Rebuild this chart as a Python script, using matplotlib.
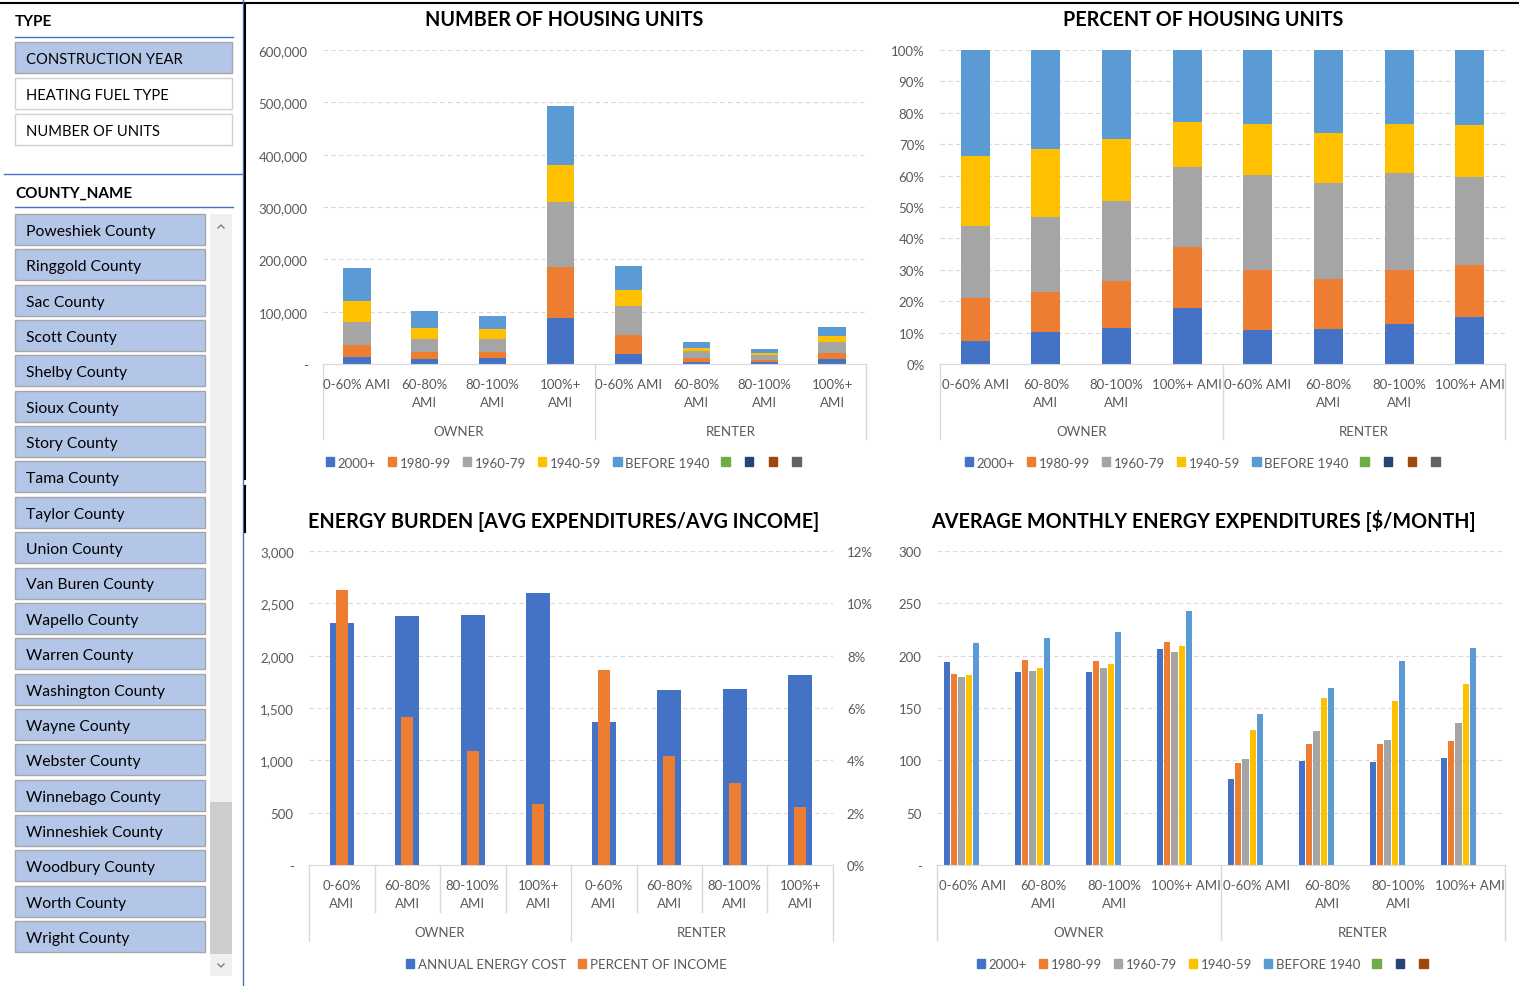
import matplotlib.pyplot as plt
from matplotlib.patches import Rectangle, Patch
from matplotlib.ticker import FuncFormatter, MultipleLocator
import numpy as np

plt.rcParams['font.family'] = ['Lato', 'DejaVu Sans']

W, H = 1519, 987
GREY_TXT = '#595959'
GRID = '#D9D9D9'

GROUPS = ['OWNER', 'RENTER']
INCOME = ['0-60% AMI', '60-80% AMI', '80-100% AMI', '100%+ AMI']
PERIODS = ['2000+', '1980-99', '1960-79', '1940-59', 'BEFORE 1940']
PERIOD_COLORS = ['#4472C4', '#ED7D31', '#A5A5A5', '#FFC000', '#5B9BD5']
SPARE_COLORS = ['#70AD47', '#264478', '#9E480E', '#636363']

# order: owner 0-60, 60-80, 80-100, 100+, renter 0-60, 60-80, 80-100, 100+
units_2000 = [12800, 9600, 10900, 87400, 19800, 4500, 3200, 10200]
units_1980 = [24200, 12700, 12700, 97600, 36400, 7000, 5100, 11500]
units_1960 = [43400, 24900, 23600, 124000, 55500, 13400, 9600, 19800]
units_1940 = [40200, 21700, 19200, 72000, 30600, 6400, 3800, 12100]
units_pre1940 = [62400, 31900, 24900, 112000, 44100, 11500, 7000, 16600]

pct_2000 = [7.4, 10.1, 11.4, 17.7, 10.7, 11.3, 12.6, 15.0]
pct_1980 = [13.5, 12.7, 15.1, 19.7, 19.1, 15.7, 17.2, 16.6]
pct_1960 = [23.2, 24.0, 25.5, 25.3, 30.3, 30.6, 31.1, 28.1]
pct_1940 = [22.3, 21.6, 19.8, 14.4, 16.3, 16.0, 15.5, 16.3]
pct_pre1940 = [33.6, 31.6, 28.2, 22.9, 23.6, 26.4, 23.6, 24.0]

annual_cost = [2310, 2377, 2393, 2596, 1367, 1669, 1684, 1815]
pct_income = [10.5, 5.66, 4.35, 2.33, 7.47, 4.16, 3.13, 2.22]

monthly_2000 = [193.9, 184.6, 184.0, 206.3, 82.3, 99.5, 98.8, 102.3]
monthly_1980 = [182.7, 196.1, 195.1, 212.9, 97.9, 115.4, 115.4, 118.5]
monthly_1960 = [179.6, 185.6, 188.1, 203.4, 101.1, 127.8, 119.5, 135.4]
monthly_1940 = [181.5, 188.5, 192.3, 208.8, 129.0, 159.5, 156.7, 173.2]
monthly_pre1940 = [211.7, 217.1, 222.5, 242.8, 144.6, 169.1, 195.1, 206.9]

TYPES = ['CONSTRUCTION YEAR', 'HEATING FUEL TYPE', 'NUMBER OF UNITS']
COUNTIES = ['Poweshiek County', 'Ringgold County', 'Sac County', 'Scott County',
            'Shelby County', 'Sioux County', 'Story County', 'Tama County',
            'Taylor County', 'Union County', 'Van Buren County', 'Wapello County',
            'Warren County', 'Washington County', 'Wayne County', 'Webster County',
            'Winnebago County', 'Winneshiek County', 'Woodbury County',
            'Worth County', 'Wright County']

fig = plt.figure(figsize=(W / 100, H / 100), dpi=100)

# background layer in pixel coordinates: slicer panel and frame lines
bg = fig.add_axes([0, 0, 1, 1])
bg.set_xlim(0, W)
bg.set_ylim(H, 0)
bg.axis('off')

bg.plot([0, W], [4, 4], color='black', lw=1.5)
bg.plot([243, 243], [0, H], color='#4472C4', lw=1)
bg.plot([244.5, 244.5], [4, 480], color='black', lw=1.5)
bg.plot([244.5, 244.5], [487, 533], color='black', lw=1.5)

bg.text(15, 22.5, 'TYPE', fontsize=11, weight='bold', va='center')
bg.plot([15, 233], [38, 38], color='#4472C4', lw=1)
for i, name in enumerate(TYPES):
    y0 = 43 + i * 35.8
    sel = i == 0
    bg.add_patch(Rectangle((15, y0), 217, 31, fc='#B4C6E7' if sel else 'white',
                           ec='#A6A6A6' if sel else '#D0D0D0', lw=1))
    bg.text(26, y0 + 17.5, name, fontsize=10.6, va='center')

bg.plot([4, 243], [175, 175], color='#4472C4', lw=1)
bg.text(15, 193.5, 'COUNTY_NAME', fontsize=11, weight='bold', va='center')
bg.plot([15, 233], [208, 208], color='#4472C4', lw=1)
for i, name in enumerate(COUNTIES):
    y0 = 215 + i * 35.35
    bg.add_patch(Rectangle((15, y0), 190, 31, fc='#B4C6E7', ec='#A6A6A6', lw=1))
    bg.text(26, y0 + 17, name, fontsize=11.3, va='center')

bg.add_patch(Rectangle((210, 215), 22, 762, fc='#F0F0F0', ec='none'))
bg.add_patch(Rectangle((210, 803), 22, 152, fc='#CDCDCD', ec='none'))
bg.plot([218, 221, 224], [229, 226, 229], color='#7F7F7F', lw=1)
bg.plot([218, 221, 224], [965, 968, 965], color='#7F7F7F', lw=1)


def add_ax(x0, y0, x1, y1):
    return fig.add_axes([x0 / W, 1 - y1 / H, (x1 - x0) / W, (y1 - y0) / H])


def style_ax(ax, title, tx, ty):
    for s in ['top', 'right', 'left']:
        ax.spines[s].set_visible(False)
    ax.spines['bottom'].set_color(GRID)
    ax.grid(axis='y', color=GRID, ls=(0, (4, 3)), lw=0.8)
    ax.set_axisbelow(True)
    ax.tick_params(length=0, labelsize=9.5, labelcolor=GREY_TXT, pad=11)
    ax.set_xticks([])
    ax.set_xlim(-0.5, 7.5)
    fig.text(tx / W, 1 - ty / H, title, ha='center', va='center',
             fontsize=14.2, weight='bold')


def category_axis(ax, breaks, top, bottom, inner_lines=False):
    h = bottom - top
    tr = ax.get_xaxis_transform()
    labels = [INCOME[i % 4] for i in range(8)]
    for i, lab in enumerate(labels):
        if breaks[i % 4]:
            lab = lab.replace(' ', '\n')
        ax.text(i, -14 / h, lab, transform=tr, ha='center', va='top',
                fontsize=9.5, color=GREY_TXT, linespacing=1.58)
    for g, name in enumerate(GROUPS):
        ax.text(1.5 + 4 * g, -67 / h, name,
                transform=tr, ha='center', va='center', fontsize=9.5,
                color=GREY_TXT)
    depth = 76 if inner_lines else 75
    for xv in [-0.5, 3.5, 7.5]:
        ax.plot([xv, xv], [0, -depth / h], transform=tr, color=GRID, lw=1,
                clip_on=False)
    if inner_lines:
        for xv in [0.5, 1.5, 2.5, 4.5, 5.5, 6.5]:
            ax.plot([xv, xv], [0, -47 / h], transform=tr, color=GRID, lw=1,
                    clip_on=False)


def legend(handles, labels, cx, cy):
    fig.legend(handles, labels, loc='center', bbox_to_anchor=(cx / W, 1 - cy / H),
               ncol=len(handles), frameon=False, fontsize=9.5, handlelength=0.65,
               handleheight=0.65, handletextpad=0.25, columnspacing=0.9,
               labelcolor=GREY_TXT)


x = np.arange(8)

# ---- number of housing units ----
ax1 = add_ax(323, 51, 866, 365)
units = [units_2000, units_1980, units_1960, units_1940, units_pre1940]
base = np.zeros(8)
for vals, col in zip(units, PERIOD_COLORS):
    ax1.bar(x, vals, 0.4, bottom=base, color=col)
    base += np.array(vals)
ax1.set_ylim(0, 600000)
ax1.yaxis.set_major_locator(MultipleLocator(100000))
ax1.yaxis.set_major_formatter(FuncFormatter(lambda v, p: '-' if v == 0 else f'{v:,.0f}'))
style_ax(ax1, 'NUMBER OF HOUSING UNITS', 564.5, 20.5)
category_axis(ax1, [False, True, True, True], 51, 365)

# ---- percent of housing units ----
ax2 = add_ax(940, 51, 1505, 365)
pcts = [pct_2000, pct_1980, pct_1960, pct_1940, pct_pre1940]
base = np.zeros(8)
for vals, col in zip(pcts, PERIOD_COLORS):
    ax2.bar(x, vals, 0.41, bottom=base, color=col)
    base += np.array(vals)
ax2.set_ylim(0, 100)
ax2.yaxis.set_major_locator(MultipleLocator(10))
ax2.yaxis.set_major_formatter(FuncFormatter(lambda v, p: f'{v:.0f}%'))
style_ax(ax2, 'PERCENT OF HOUSING UNITS', 1203.5, 20.5)
category_axis(ax2, [False, True, True, False], 51, 365)

period_handles = [Patch(color=c) for c in PERIOD_COLORS + SPARE_COLORS]
legend(period_handles, PERIODS + [''] * 4, 565, 463.5)
legend(period_handles, PERIODS + [''] * 4, 1204, 463.5)

# ---- energy burden ----
ax3 = add_ax(309, 552, 833, 866)
ax3.bar(x, annual_cost, 0.36, color='#4472C4', zorder=2)
ax3.set_ylim(0, 3000)
ax3.yaxis.set_major_locator(MultipleLocator(500))
ax3.yaxis.set_major_formatter(FuncFormatter(lambda v, p: '-' if v == 0 else f'{v:,.0f}'))
style_ax(ax3, 'ENERGY BURDEN [AVG EXPENDITURES/AVG INCOME]', 564, 521.5)
category_axis(ax3, [True, True, True, True], 552, 866, inner_lines=True)
ax3b = ax3.twinx()
ax3b.bar(x, pct_income, 0.19, color='#ED7D31')
ax3b.set_ylim(0, 12)
ax3b.yaxis.set_major_locator(MultipleLocator(2))
ax3b.yaxis.set_major_formatter(FuncFormatter(lambda v, p: f'{v:.0f}%'))
ax3b.tick_params(length=0, labelsize=9.5, labelcolor=GREY_TXT, pad=10)
for s in ax3b.spines.values():
    s.set_visible(False)
legend([Patch(color='#4472C4'), Patch(color='#ED7D31')],
       ['ANNUAL ENERGY COST', 'PERCENT OF INCOME'], 566, 965.5)

# ---- average monthly energy expenditures ----
ax4 = add_ax(937, 552, 1505, 866)
monthly = [monthly_2000, monthly_1980, monthly_1960, monthly_1940, monthly_pre1940]
n_slots = 8
step = 0.103
for i, (vals, col) in enumerate(zip(monthly, PERIOD_COLORS)):
    ax4.bar(x + (i - (n_slots - 1) / 2) * step, vals, 0.088, color=col)
ax4.set_ylim(0, 300)
ax4.yaxis.set_major_locator(MultipleLocator(50))
ax4.yaxis.set_major_formatter(FuncFormatter(lambda v, p: '-' if v == 0 else f'{v:,.0f}'))
style_ax(ax4, 'AVERAGE MONTHLY ENERGY EXPENDITURES [$/MONTH]', 1203.5, 521.5)
category_axis(ax4, [False, True, True, False], 552, 866)
legend(period_handles[:8], PERIODS + [''] * 3, 1204, 965.5)

fig.savefig('out.png', dpi=100)
